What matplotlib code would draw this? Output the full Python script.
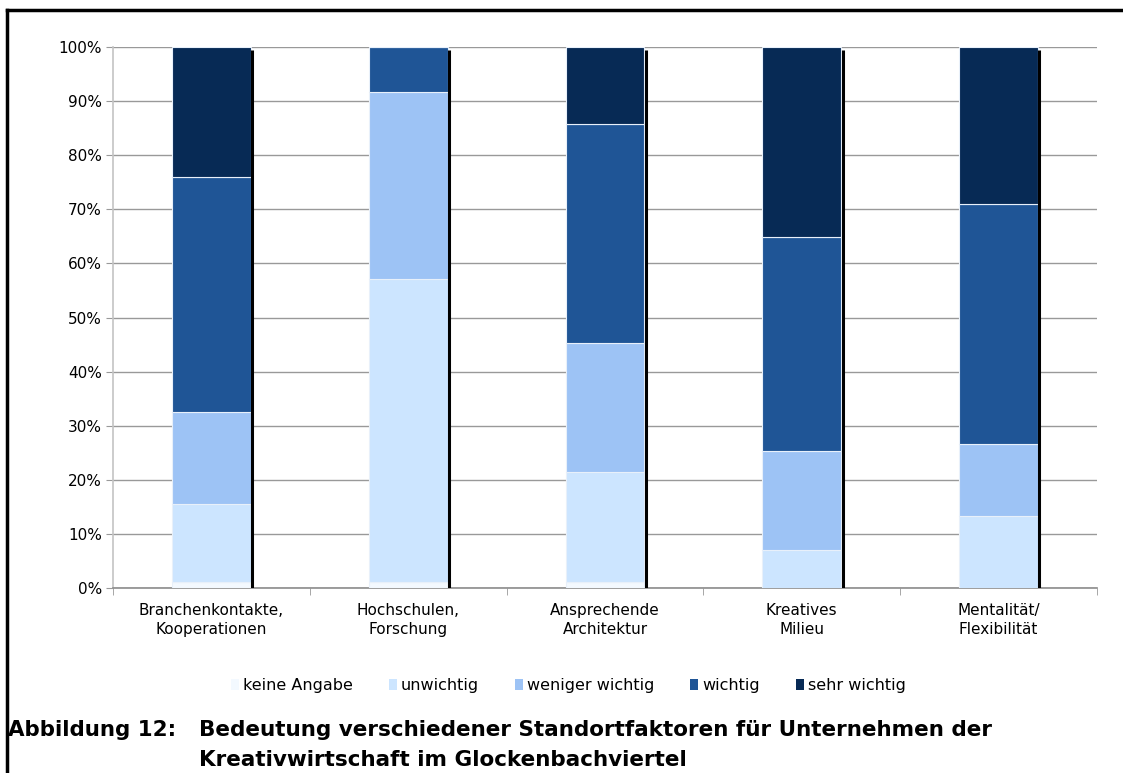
import numpy as np
import matplotlib.pyplot as plt
from matplotlib.patches import Patch
from matplotlib.lines import Line2D

plt.rcParams['font.family'] = ['DejaVu Sans']

# Standortfaktoren und Antwortanteile in Prozent
kategorien = ["Branchenkontakte,\nKooperationen", "Hochschulen,\nForschung",
              "Ansprechende\nArchitektur", "Kreatives\nMilieu", "Mentalität/\nFlexibilität"]
reihen = ["keine Angabe", "unwichtig", "weniger wichtig", "wichtig", "sehr wichtig"]
keine_angabe = [1.2, 1.2, 1.2, 0.0, 0.0]
unwichtig = [14.3, 56.0, 20.2, 7.1, 13.3]
weniger_wichtig = [17.0, 34.5, 23.8, 18.2, 13.3]
wichtig = [43.5, 8.3, 40.5, 39.6, 44.4]
sehr_wichtig = [24.0, 0.0, 14.3, 35.1, 29.0]
farben = ["#F3F9FF", "#CCE5FF", "#9DC3F5", "#1F5596", "#072A55"]

werte = [keine_angabe, unwichtig, weniger_wichtig, wichtig, sehr_wichtig]

fig = plt.figure(figsize=(11.23, 7.73), dpi=100)
ax = fig.add_axes([0.1006, 0.2393, 0.8762, 0.6999])

x = np.arange(len(kategorien))
breite = 0.4
unten = np.zeros(len(kategorien))
for name, v, f in zip(reihen, werte, farben):
    ax.bar(x, v, breite, bottom=unten, color=f, edgecolor="#e8f0fa", linewidth=0.8,
           label=name, zorder=3)
    unten += np.array(v)

# schwarze Schattenkante rechts neben jedem Balken
ax.vlines(x + breite / 2 + 0.008, 0, unten - 0.5, color="black", linewidth=2.2, zorder=4)

ax.set_xlim(-0.5, len(kategorien) - 0.5)
ax.set_ylim(0, 100)
ax.set_yticks(np.arange(0, 101, 10))
ax.set_yticklabels([f"{t}%" for t in range(0, 101, 10)], fontsize=11)
ax.yaxis.grid(True, color="#999999", linewidth=1, zorder=0)
ax.tick_params(axis="y", length=5, color="#999999", pad=3)

ax.set_xticks(x)
ax.set_xticklabels(kategorien, fontsize=11, linespacing=1.3)
ax.set_xticks(np.arange(-0.5, len(kategorien)), minor=True)
ax.tick_params(axis="x", which="major", length=0, pad=11)
ax.tick_params(axis="x", which="minor", length=5, color="#999999")

for s in ["top", "right"]:
    ax.spines[s].set_visible(False)
ax.spines["left"].set_color("#c4c4c4")
ax.spines["left"].set_linewidth(1.2)
ax.spines["bottom"].set_color("#8c8c8c")
ax.spines["bottom"].set_linewidth(1.2)

handles = [Patch(facecolor=f, edgecolor="none") for f in farben]
fig.legend(handles, reihen, loc="center", bbox_to_anchor=(0.506, 0.113), ncol=5,
           frameon=False, fontsize=11.5, handlelength=0.5, handleheight=0.6,
           handletextpad=0.25, columnspacing=2.25)

# Bildunterschrift
fig.text(0.007, 0.0485, "Abbildung 12:", fontsize=15.4, fontweight="bold", va="baseline")
fig.text(0.177, 0.0485, "Bedeutung verschiedener Standortfaktoren für Unternehmen der",
         fontsize=15.5, fontweight="bold", va="baseline")
fig.text(0.177, 0.0095, "Kreativwirtschaft im Glockenbachviertel",
         fontsize=15.5, fontweight="bold", va="baseline")

# Rahmen oben und links
fig.add_artist(Line2D([0.0065, 1.0], [0.987, 0.987], color="black", linewidth=2.5,
                      transform=fig.transFigure))
fig.add_artist(Line2D([0.0065, 0.0065], [0.0, 0.987], color="black", linewidth=2.5,
                      transform=fig.transFigure))

fig.savefig("out.png", dpi=100)
